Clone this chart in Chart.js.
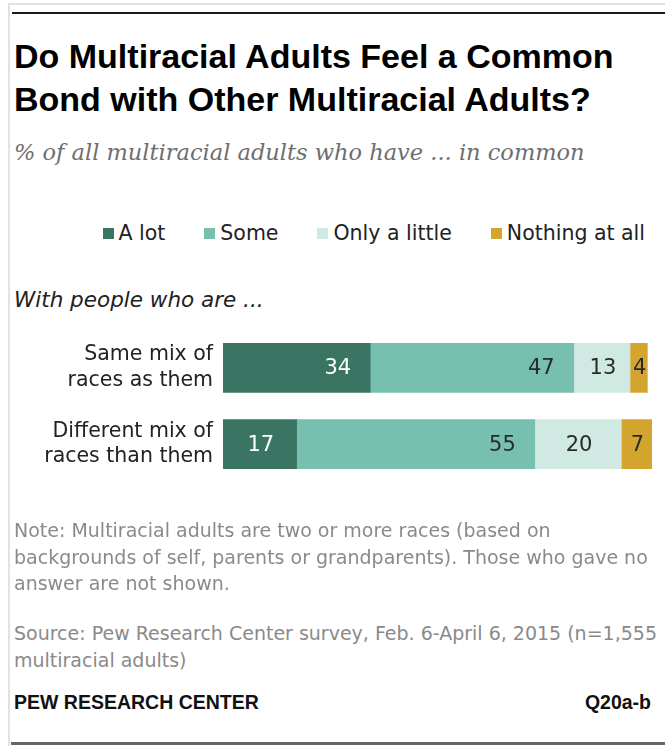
<!DOCTYPE html>
<html>
<head>
<meta charset="utf-8">
<script src="https://cdn.jsdelivr.net/npm/chart.js@4/dist/chart.umd.min.js"></script>
<style>
  html, body { margin: 0; padding: 0; background: #fff; }
  body { width: 665px; height: 746px; position: relative; overflow: hidden; font-family: "DejaVu Sans", sans-serif; }
  .frame-left { position: absolute; left: 8px; top: 3px; width: 2px; height: 743px; background: #e2e2e2; }
  .frame-top { position: absolute; left: 8px; top: 3px; width: 657px; height: 2px; background: #e2e2e2; }
  .rule-top { position: absolute; left: 12px; top: 12px; width: 653px; height: 2px; background: #1a1a1a; }
  .rule-bottom { position: absolute; left: 11px; top: 742px; width: 654px; height: 3px; background: #666; }
  .title { position: absolute; left: 14px; top: 35px; font-family: "Liberation Sans", Arial, sans-serif; font-weight: bold; font-size: 34px; line-height: 43px; color: #000; white-space: nowrap; }
  .subtitle { position: absolute; left: 14px; top: 139px; font-family: "DejaVu Serif", serif; font-style: italic; font-size: 22.5px; line-height: 26px; color: #6e6e6e; white-space: nowrap; letter-spacing: 0; }
  .legend { position: absolute; right: 20px; top: 221px; height: 24px; display: flex; align-items: center; font-size: 20.5px; color: #222; white-space: nowrap; }
  .legend .item { display: flex; align-items: center; margin-left: 39px; }
  .legend .sw { width: 11px; height: 11px; margin-right: 5px; }
  .lead { position: absolute; left: 14px; top: 287px; font-size: 21.5px; line-height: 26px; font-style: italic; color: #222; white-space: nowrap; }
  #wrap { position: absolute; left: 0; top: 294px; width: 665px; height: 224px; }
  .note { position: absolute; left: 14px; font-size: 19px; line-height: 26.5px; color: #8a8a8a; white-space: nowrap; }
  .foot { position: absolute; top: 690px; font-family: "Liberation Sans", Arial, sans-serif; font-weight: bold; font-size: 19.5px; line-height: 24px; color: #111; }
</style>
</head>
<body>
<div class="frame-left"></div>
<div class="frame-top"></div>
<div class="rule-top"></div>
<div class="title">Do Multiracial Adults Feel a Common<br>Bond with Other Multiracial Adults?</div>
<div class="subtitle">% of all multiracial adults who have ... in common</div>
<div class="legend" id="legend"></div>
<div class="lead">With people who are ...</div>
<div id="wrap"><canvas id="chart" width="665" height="224"></canvas></div>
<div class="note" style="top:517px;">Note: Multiracial adults are two or more races (based on<br>backgrounds of self, parents or grandparents). Those who gave no<br>answer are not shown.</div>
<div class="note" style="top:620px;">Source: Pew Research Center survey, Feb. 6-April 6, 2015 (n=1,555<br>multiracial adults)</div>
<div class="foot" style="left:14px;">PEW RESEARCH CENTER</div>
<div class="foot" style="right:14px;">Q20a-b</div>
<div class="rule-bottom"></div>

<script>
// Survey responses: share of multiracial adults feeling a bond with each group
const categories = [
  ["Same mix of", "races as them"],
  ["Different mix of", "races than them"]
];
const seriesNames = ["A lot", "Some", "Only a little", "Nothing at all"];
const aLot = [34, 17];
const some = [47, 55];
const onlyALittle = [13, 20];
const nothingAtAll = [4, 7];

const colors = ["#3a7563", "#77bfae", "#d1e9e3", "#d4a52e"];
const labelColors = ["#ffffff", "#2a2a2a", "#2a2a2a", "#2a2a2a"];
const seriesValues = [aLot, some, onlyALittle, nothingAtAll];

// HTML legend
const legendEl = document.getElementById("legend");
seriesNames.forEach((name, i) => {
  const item = document.createElement("div");
  item.className = "item";
  if (i === 0) item.style.marginLeft = "0";
  const sw = document.createElement("span");
  sw.className = "sw";
  sw.style.background = colors[i];
  const tx = document.createElement("span");
  tx.textContent = name;
  item.appendChild(sw);
  item.appendChild(tx);
  legendEl.appendChild(item);
});

// Value labels drawn inside each segment
const valueLabels = {
  id: "valueLabels",
  afterDatasetsDraw(chart) {
    const ctx = chart.ctx;
    ctx.save();
    ctx.font = '21px "DejaVu Sans", sans-serif';
    ctx.textBaseline = "middle";
    chart.data.datasets.forEach((ds, di) => {
      const meta = chart.getDatasetMeta(di);
      meta.data.forEach((bar, i) => {
        const v = ds.data[i];
        const left = Math.min(bar.base, bar.x);
        const right = Math.max(bar.base, bar.x);
        const w = right - left;
        ctx.fillStyle = labelColors[di];
        if (w > 110) {
          ctx.textAlign = "right";
          ctx.fillText(String(v), right - 19, bar.y + 1);
        } else {
          ctx.textAlign = "center";
          ctx.fillText(String(v), (left + right) / 2 + 1, bar.y + 1);
        }
      });
    });
    ctx.restore();
  }
};

new Chart(document.getElementById("chart"), {
  type: "bar",
  data: {
    labels: categories,
    datasets: seriesNames.map((name, i) => ({
      label: name,
      data: seriesValues[i],
      backgroundColor: colors[i],
      borderWidth: 0,
      barThickness: 49
    }))
  },
  options: {
    indexAxis: "y",
    responsive: false,
    animation: false,
    maintainAspectRatio: false,
    layout: { padding: { top: 0, bottom: 0, left: 0, right: 9 } },
    plugins: {
      legend: { display: false },
      tooltip: { enabled: false }
    },
    scales: {
      x: {
        stacked: true,
        min: 0,
        max: 100,
        display: false
      },
      y: {
        stacked: true,
        grid: { display: false, drawTicks: false },
        border: { display: false },
        afterFit(scale) { scale.width = 223; },
        ticks: {
          color: "#222",
          padding: 10,
          font: { family: "DejaVu Sans", size: 20.5, lineHeight: 1.25 }
        }
      }
    }
  },
  plugins: [valueLabels]
});
</script>
</body>
</html>
